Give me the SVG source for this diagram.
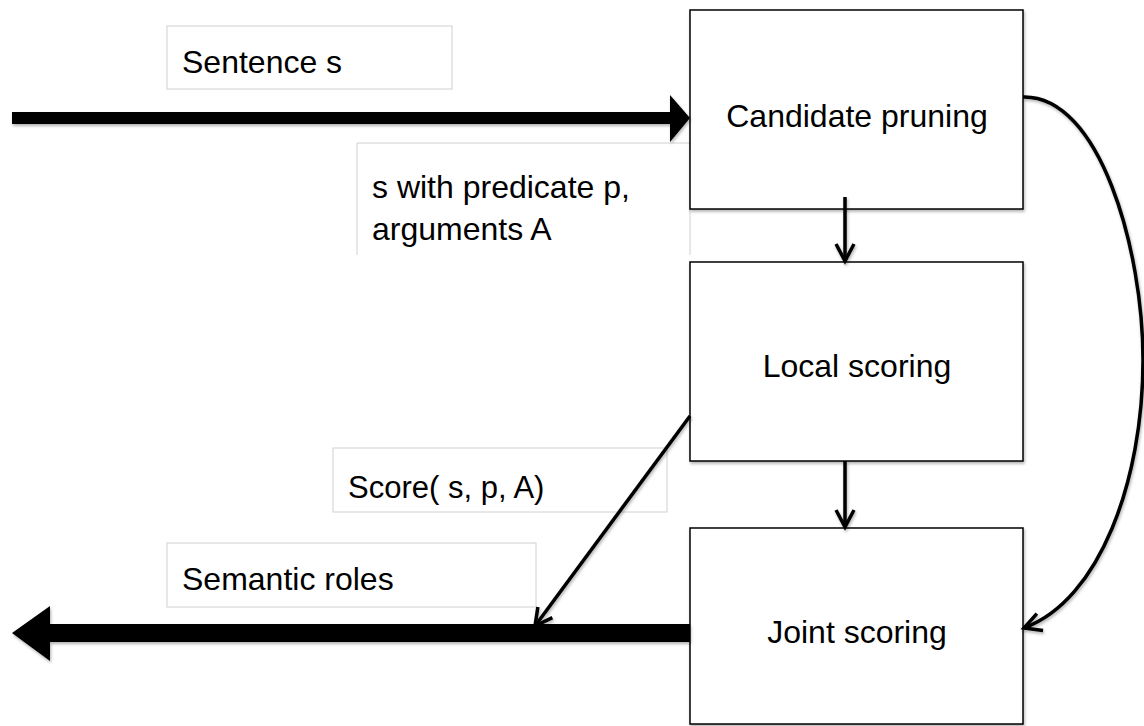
<svg xmlns="http://www.w3.org/2000/svg" width="1144" height="726" viewBox="0 0 1144 726">
  <defs>
    <style>
      text { font-family: "Liberation Sans", Arial, sans-serif; font-size: 32px; fill: #000; }
      .node rect { fill: #fff; stroke: #000; stroke-width: 1.5; }
      .label rect, .label path { fill: #fff; stroke: #d0d0d0; stroke-width: 1; }
      .thin { fill: none; stroke: #000; stroke-width: 3.5; }
      .thick { fill: #000; stroke: none; }
    </style>
    <filter id="shadow" x="-10%" y="-10%" width="130%" height="130%">
      <feDropShadow dx="1" dy="2" stdDeviation="1.5" flood-color="#000" flood-opacity="0.3"/>
    </filter>
    <marker id="open" markerUnits="userSpaceOnUse" markerWidth="24" markerHeight="24" viewBox="0 0 24 24" refX="20" refY="12" orient="auto">
      <path d="M3,3 L20,12 L3,21" fill="none" stroke="#000" stroke-width="3.5" stroke-linejoin="miter"/>
    </marker>
  </defs>

  <rect width="1144" height="726" fill="#fff"/>

  <!-- free-standing text labels -->
  <g id="label-sentence" class="label">
    <rect x="167" y="26" width="285" height="63"/>
    <text x="182" y="73">Sentence s</text>
  </g>
  <g id="label-predicate" class="label">
    <path d="M357,255 L357,143 L690,143 L690,255" />
    <text x="372" y="198">s with predicate p,</text>
    <text x="372" y="240">arguments A</text>
  </g>
  <g id="label-score" class="label">
    <rect x="333" y="448" width="334" height="64"/>
    <text x="348" y="498" style="font-size:31px">Score( s, p, A)</text>
  </g>
  <g id="label-roles" class="label">
    <rect x="167" y="543" width="369" height="64"/>
    <text x="182" y="590">Semantic roles</text>
  </g>

  <!-- processing stages -->
  <g id="node-pruning" class="node">
    <rect x="690" y="10" width="333" height="199" filter="url(#shadow)"/>
    <text x="857" y="127" text-anchor="middle">Candidate pruning</text>
  </g>
  <g id="node-local" class="node">
    <rect x="690" y="262" width="333" height="199" filter="url(#shadow)"/>
    <text x="857" y="377" text-anchor="middle">Local scoring</text>
  </g>
  <g id="node-joint" class="node">
    <rect x="690" y="528" width="333" height="196" filter="url(#shadow)"/>
    <text x="857" y="643" text-anchor="middle">Joint scoring</text>
  </g>

  <!-- connectors -->
  <g id="connectors" filter="url(#shadow)">
    <!-- input sentence -->
    <path class="thick" d="M12,112 L670,112 L670,95 L690,118 L670,142 L670,124 L12,124 Z"/>
    <!-- output roles -->
    <path class="thick" d="M690,624 L50,624 L50,606 L12,633 L50,661 L50,642 L690,642 Z"/>
    <!-- stage to stage -->
    <path class="thin" d="M845,197 L845,261" marker-end="url(#open)"/>
    <path class="thin" d="M845,461 L845,527" marker-end="url(#open)"/>
    <!-- local score into the output -->
    <path class="thin" d="M690,416 L535,626" marker-end="url(#open)"/>
    <!-- pruning straight to joint scoring -->
    <path class="thin" d="M1023,97 C1100,95 1143,250 1143,360 C1143,480 1100,600 1024,628" marker-end="url(#open)"/>
  </g>
</svg>
